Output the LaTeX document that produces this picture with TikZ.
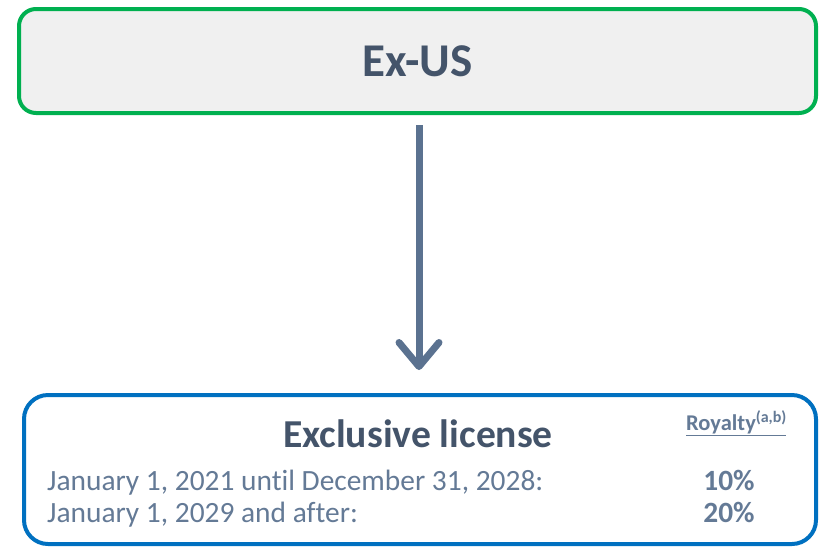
\documentclass[tikz,border=0pt]{standalone}
\usepackage{fontspec}
\setmainfont{Carlito}[Ligatures=NoCommon]
\usepackage{xcolor}
\usetikzlibrary{arrows.meta,positioning}

\definecolor{regiongreen}{RGB}{0,176,80}
\definecolor{licenseblue}{RGB}{0,112,192}
\definecolor{boxgray}{RGB}{240,240,240}
\definecolor{darkslate}{RGB}{68,84,106}
\definecolor{lightslate}{RGB}{100,122,150}
\definecolor{arrowslate}{RGB}{91,114,144}

\newcommand{\royaltysup}[1]{\raisebox{8pt}{\fontsize{16}{18}\selectfont #1}}

\tikzset{
  regionbox/.style={draw=regiongreen, line width=4pt, fill=boxgray,
    rounded corners=17pt, minimum width=797pt, minimum height=104pt,
    text=darkslate, font=\fontsize{47}{56}\selectfont\bfseries},
  licensebox/.style={draw=licenseblue, line width=4pt, fill=white,
    rounded corners=24pt, minimum width=792pt, minimum height=149pt},
  flow/.style={draw=arrowslate, line width=7pt,
    -{Straight Barb[length=24pt,width=40pt,round]}},
  rowtext/.style={anchor=base west, inner sep=0pt, text=lightslate,
    font=\fontsize{29.4}{35}\selectfont},
  ratetext/.style={anchor=base, inner sep=0pt, text=lightslate,
    font=\fontsize{29.4}{35}\selectfont\bfseries}
}

\begin{document}
\begin{tikzpicture}[x=1pt, y=-1pt]
% Fix page size.
\useasboundingbox (0,0) rectangle (821,547);

% Draw boxes.
\node[regionbox] (exus) at (417.5,61) {Ex-US};
\node[licensebox] (excl) at (420,469.5) {};

% Draw arrow.
\draw[flow, shorten <=10pt, shorten >=23pt] ([xshift=1.5pt]exus.south) -- ([xshift=-1pt]excl.north);

% Box texts.
\node[anchor=base, inner sep=0pt, text=darkslate, font=\fontsize{39.6}{47}\selectfont\bfseries]
  (title) at (418,447) {Exclusive license};
\node[anchor=base west, inner sep=0pt, text=lightslate, font=\fontsize{22.5}{27}\selectfont\bfseries]
  (royalty) at (686,430) {\underline{Royalty\royaltysup{(a,b)}}};

\node[rowtext] (period1) at (47,490) {January 1, 2021 until December 31, 2028:};
\node[rowtext] (period2) at (47,522) {January 1, 2029 and after:};
\node[ratetext] (rate1) at (729,490) {10\%};
\node[ratetext] (rate2) at (729,522) {20\%};
\end{tikzpicture}
\end{document}
